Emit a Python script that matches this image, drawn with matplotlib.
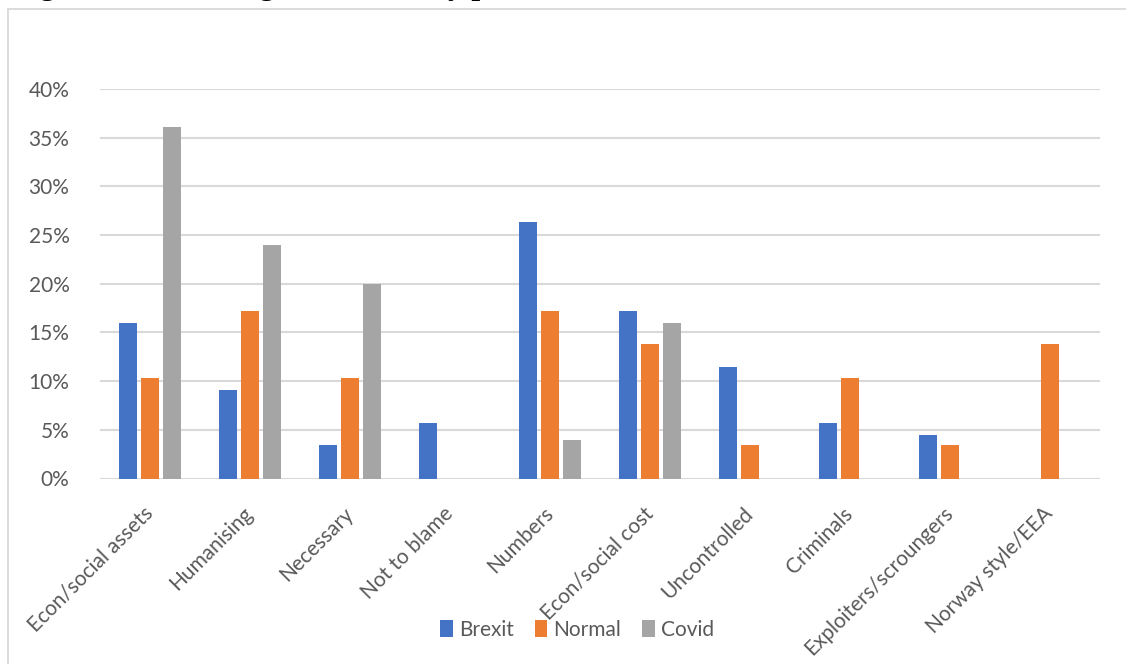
import matplotlib.pyplot as plt
import matplotlib.transforms as mtransforms
from matplotlib.patches import Rectangle
from matplotlib.ticker import PercentFormatter
import numpy as np

categories = ["Econ/social assets", "Humanising", "Necessary", "Not to blame",
              "Numbers", "Econ/social cost", "Uncontrolled", "Criminals",
              "Exploiters/scroungers", "Norway style/EEA"]
brexit = [16.0, 9.1, 3.4, 5.7, 26.3, 17.2, 11.4, 5.7, 4.5, 0.0]
normal = [10.3, 17.2, 10.3, 0.0, 17.2, 13.8, 3.4, 10.3, 3.4, 13.8]
covid = [36.1, 24.0, 20.0, 0.0, 4.0, 16.0, 0.0, 0.0, 0.0, 0.0]
series = [("Brexit", brexit, "#4472C4"),
          ("Normal", normal, "#ED7D31"),
          ("Covid", covid, "#A5A5A5")]

title = "Figure 1: Percentage of frames by period"

plt.rcParams["font.family"] = ["Lato", "DejaVu Sans"]
text_grey = "#595959"
grid_grey = "#D9D9D9"

fig = plt.figure(figsize=(11.26, 6.64), dpi=100)

# heading sits mostly above the page edge, only the descenders show
fig.text(12 / 1126, 1 + 6 / 664, title, fontsize=22.5, fontweight="bold",
         family="Liberation Serif", ha="left", va="baseline")

# chart area border
fig.patches.append(Rectangle((8 / 1126, -0.1), 1.2, 1.1 - 9 / 664,
                             transform=fig.transFigure, fill=False,
                             edgecolor=grid_grey, linewidth=1.3))

ax = fig.add_axes([100 / 1126, 1 - 478.5 / 664, 1000 / 1126, (478.5 - 89) / 664])

x = np.arange(len(categories))
width = 0.185
for i, (name, vals, color) in enumerate(series):
    ax.bar(x + (i - 1) * 0.22, np.array(vals) / 100, width, color=color,
           label=name, zorder=3)

ax.set_xlim(-0.5, len(categories) - 0.5)
ax.set_ylim(0, 0.40)
ax.set_yticks(np.arange(0, 0.401, 0.05))
ax.yaxis.set_major_formatter(PercentFormatter(1.0, decimals=0))
ax.grid(axis="y", color=grid_grey, linewidth=1.5, zorder=0)
for s in ax.spines.values():
    s.set_visible(False)
ax.tick_params(axis="both", length=0, labelsize=15, labelcolor=text_grey)
ax.tick_params(axis="y", pad=22)

ax.set_xticks(x)
ax.set_xticklabels(categories, rotation=45, ha="right", va="center",
                   rotation_mode="anchor")
offset = mtransforms.ScaledTranslation(0, -27 / 100, fig.dpi_scale_trans)
for lbl in ax.get_xticklabels():
    lbl.set_transform(lbl.get_transform() + offset)

fig.legend(loc="center", bbox_to_anchor=(577 / 1126, 1 - 630 / 664), ncol=3,
           frameon=False, fontsize=15, labelcolor=text_grey, handlelength=0.6,
           handleheight=0.9, handletextpad=0.3, columnspacing=1.0)

fig.savefig("out.png", dpi=100)
